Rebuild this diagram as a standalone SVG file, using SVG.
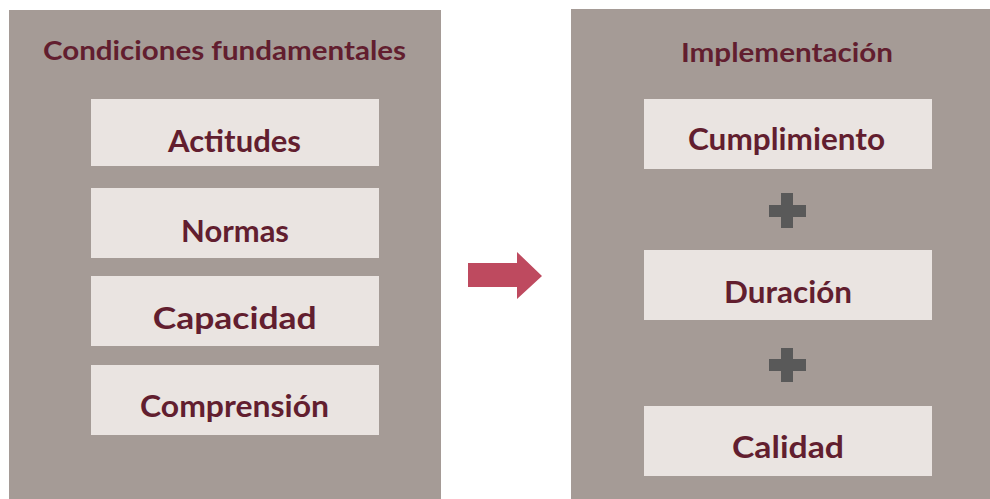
<svg xmlns="http://www.w3.org/2000/svg" width="990" height="499" viewBox="0 0 990 499">
<style>
.panel{fill:#A59B96}
.box{fill:#EAE4E1}
.t{font-family:Lato,"Noto Sans","Liberation Sans",sans-serif;font-weight:bold;fill:#621E2F;text-anchor:middle}
.title{font-size:26px}
.item{font-size:30px}
.plus{fill:#595959}
.arrow{fill:#BE4A5F}
</style>
<rect width="990" height="499" fill="#FFFFFF"/>
<g id="panel-left">
<rect class="panel" x="9" y="10" width="432" height="489"/>
<text class="t title" x="224.5" y="60" textLength="363" lengthAdjust="spacingAndGlyphs">Condiciones fundamentales</text>
</g>
<g id="node-actitudes">
<rect class="box" x="91" y="99" width="288" height="67"/>
<text class="t item" x="234.5" y="152" textLength="133" lengthAdjust="spacingAndGlyphs">Actitudes</text>
</g>
<g id="node-normas">
<rect class="box" x="91" y="188" width="288" height="70"/>
<text class="t item" x="235" y="241.5" textLength="108" lengthAdjust="spacingAndGlyphs">Normas</text>
</g>
<g id="node-capacidad">
<rect class="box" x="91" y="276" width="288" height="70"/>
<text class="t item" x="234.7" y="328.5" textLength="164" lengthAdjust="spacingAndGlyphs">Capacidad</text>
</g>
<g id="node-comprension">
<rect class="box" x="91" y="365" width="288" height="70"/>
<text class="t item" x="234.5" y="417" textLength="189" lengthAdjust="spacingAndGlyphs">Comprensión</text>
</g>
<g id="panel-right">
<rect class="panel" x="571" y="9" width="419" height="490"/>
<text class="t title" x="787" y="61.5" textLength="212" lengthAdjust="spacingAndGlyphs">Implementación</text>
</g>
<g id="node-cumplimiento">
<rect class="box" x="644" y="99" width="288" height="70"/>
<text class="t item" x="786.5" y="150" textLength="197" lengthAdjust="spacingAndGlyphs">Cumplimiento</text>
</g>
<g id="node-duracion">
<rect class="box" x="644" y="250" width="288" height="70"/>
<text class="t item" x="788" y="302.5" textLength="128" lengthAdjust="spacingAndGlyphs">Duración</text>
</g>
<g id="node-calidad">
<rect class="box" x="644" y="406" width="288" height="70"/>
<text class="t item" x="788" y="458" textLength="112" lengthAdjust="spacingAndGlyphs">Calidad</text>
</g>
<g id="connectors">
<polygon class="arrow" points="468,263 517,263 517,252 542,276 517,299 517,287 468,287"/>
<path class="plus" d="M781,193h12v12h13v12h-13v11h-12v-11h-12v-12h12z"/>
<path class="plus" d="M781,348h12v11h13v12h-13v11h-12v-11h-12v-12h12z"/>
</g>
</svg>
